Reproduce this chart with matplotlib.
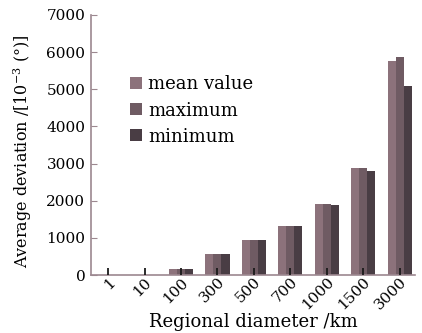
import numpy as np
import matplotlib
matplotlib.use("Agg")
import matplotlib.pyplot as plt

# values (units: 10^-3 degree)
diameters = ["1", "10", "100", "300", "500", "700", "1000", "1500", "3000"]
mean_vals = [5, 12, 165, 555, 935, 1325, 1910, 2870, 5760]
max_vals = [5, 12, 165, 555, 935, 1325, 1910, 2890, 5870]
min_vals = [5, 12, 165, 555, 935, 1325, 1890, 2790, 5080]
series_names = ["mean value", "maximum", "minimum"]
colors = ["#8c727b", "#6f5b63", "#493d44"]

plt.rcParams["font.family"] = ["DejaVu Serif"]
plt.rcParams["mathtext.fontset"] = "dejavuserif"

fig = plt.figure(figsize=(4.22, 3.33), dpi=100)
ax = fig.add_axes([0.2156, 0.174, 0.768, 0.781])

x = np.arange(len(diameters))
w = 0.22
for i, (vals, name, c) in enumerate(zip([mean_vals, max_vals, min_vals], series_names, colors)):
    ax.bar(x + (i - 1) * w, vals, width=w, color=c, label=name, zorder=2)

spine_c = "#9c8890"
for s in ["top", "right"]:
    ax.spines[s].set_visible(False)
for s in ["left", "bottom"]:
    ax.spines[s].set_color(spine_c)
    ax.spines[s].set_linewidth(1.2)

ax.set_ylim(0, 7000)
ax.set_xlim(-0.47, len(diameters) - 0.58)
ax.set_yticks(np.arange(0, 7001, 1000))
ax.set_xticks(x)
ax.set_xticklabels(diameters, rotation=45, ha="right", rotation_mode="anchor")
ax.tick_params(axis="y", direction="in", length=4, color=spine_c, labelsize=11, pad=4)
ax.tick_params(axis="x", direction="in", length=5, width=1.3, color="#1a1a1a", labelsize=11, pad=0)
ax.set_axisbelow(False)

ax.set_xlabel("Regional diameter /km", fontsize=13, labelpad=0)
ax.set_ylabel(r"Average deviation /[10$^{-3}$ ($\degree$)]", fontsize=11.5)
ax.yaxis.set_label_coords(-0.175, 0.475)

ax.legend(loc="upper left", bbox_to_anchor=(0.07, 0.83), frameon=False, fontsize=13,
          handlelength=0.65, handleheight=0.65, handletextpad=0.35, labelspacing=0.45)

fig.savefig("out.png", dpi=100)
